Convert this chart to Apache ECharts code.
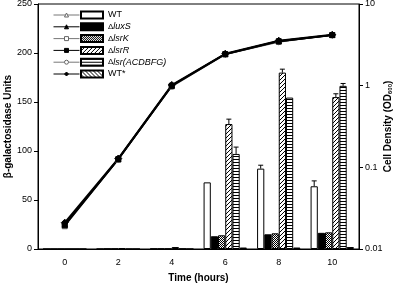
<!DOCTYPE html>
<html>
<head>
<meta charset="utf-8">
<script src="https://cdn.jsdelivr.net/npm/echarts@6/dist/echarts.min.js"></script>
<style>
  html, body { margin: 0; padding: 0; background: #fff; }
  #chart { width: 400px; height: 285px; }
</style>
</head>
<body>
<div id="chart"></div>
<script>
// time points (hours)
const hours = ['0', '2', '4', '6', '8', '10'];

// beta-galactosidase units (bars, left axis)
const wtBars      = [0, 0, 0.3, 68, 82, 64];
const luxSBars    = [0, 0.3, 0.3, 13, 15, 16.5];
const lsrKBars    = [0, 0.3, 0.3, 14, 16, 17];
const lsrRBars    = [0, 1, 2, 127.5, 180, 155];
const lsrACDBars  = [0, 0, 0.3, 97, 154.5, 166.5];
const wtStarBars  = [0, 0, 0, 1.5, 1.5, 2];

// error bars (upper), index = time point
const wtErr     = [0, 0, 0, 0, 3.5, 5.5];
const lsrRErr   = [0, 0, 0, 5, 3.5, 3.4];
const lsrACDErr = [0, 0, 0, 7, 0, 2.4];

// cell density OD600 (lines, right axis) - the strains overlap
const odWT     = [0.02, 0.126, 1.0, 2.44, 3.5, 4.17];
const odLuxS   = [0.02, 0.126, 1.0, 2.44, 3.5, 4.17];
const odLsrK   = [0.019, 0.124, 0.98, 2.4, 3.45, 4.15];
const odLsrR   = [0.0195, 0.126, 1.0, 2.44, 3.5, 4.17];
const odLsrACD = [0.02, 0.125, 0.97, 2.42, 3.4, 4.17];
const odWTStar = [0.021, 0.128, 1.02, 2.46, 3.55, 4.2];

const strains = ['WT', 'ΔluxS', 'ΔlsrK', 'ΔlsrR', 'Δlsr(ACDBFG)', 'WT*'];

function pattern(kind) {
  const c = document.createElement('canvas');
  const n = kind === 'horiz' ? 3 : (kind === 'check' ? 2 : 4);
  c.width = n; c.height = n;
  const g = c.getContext('2d');
  g.fillStyle = '#fff';
  g.fillRect(0, 0, n, n);
  g.fillStyle = '#000';
  for (let i = 0; i < n; i++) {
    if (kind === 'check') { if (i % 2 === 0) { g.fillRect(0, i, 1, 1); g.fillRect(1, i + 1, 1, 1); } }
    if (kind === 'fwd') g.fillRect(i, n - 1 - i, 1, 1);
    if (kind === 'back') g.fillRect(i, i, 1, 1);
  }
  if (kind === 'horiz') g.fillRect(0, 0, n, 1);
  return { image: c, repeat: 'repeat' };
}

const fills = ['#fff', '#000', pattern('check'), pattern('fwd'), pattern('horiz'), pattern('back')];
const barData = [wtBars, luxSBars, lsrKBars, lsrRBars, lsrACDBars, wtStarBars];
const odData = [odWT, odLuxS, odLsrK, odLsrR, odLsrACD, odWTStar];
const symbols = ['triangle', 'triangle', 'rect', 'rect', 'circle', 'diamond'];
const openSym = [true, false, true, false, true, false];

const errPoints = [];
[[0, wtErr], [3, lsrRErr], [4, lsrACDErr]].forEach(([bi, errs]) => {
  errs.forEach((e, t) => {
    if (e > 0) errPoints.push([t, barData[bi][t], e, bi]);
  });
});

const font = 'Liberation Sans, Arial, sans-serif';
const chart = echarts.init(document.getElementById('chart'), null, { renderer: 'canvas' });

const series = [];
strains.forEach((s, i) => {
  series.push({
    name: s,
    type: 'bar',
    yAxisIndex: 0,
    data: barData[i],
    barGap: '0%',
    barCategoryGap: '19%',
    itemStyle: { color: fills[i], borderColor: '#000', borderWidth: 1 },
    emphasis: { disabled: true },
    animation: false
  });
});
// gray open-marker lines first, black filled on top
[0, 2, 4, 1, 3, 5].forEach(i => {
  series.push({
    name: strains[i] + ' OD',
    type: 'line',
    yAxisIndex: 1,
    data: odData[i],
    symbol: symbols[i],
    symbolSize: symbols[i] === 'diamond' ? 7 : 5,
    showAllSymbol: true,
    lineStyle: { color: openSym[i] ? '#777' : '#000', width: openSym[i] ? 1.2 : 1.8 },
    itemStyle: {
      color: openSym[i] ? '#fff' : '#000',
      borderColor: openSym[i] ? '#666' : '#000',
      borderWidth: 1
    },
    z: 5,
    animation: false
  });
});
series.push({
  type: 'custom',
  yAxisIndex: 0,
  data: errPoints,
  z: 6,
  animation: false,
  renderItem: function (params, api) {
    const t = api.value(0), v = api.value(1), e = api.value(2), bi = api.value(3);
    const base = api.coord([t, v]);
    const top = api.coord([t, v + e]);
    const band = api.size([1, 0])[0];
    const bw = band * 0.81 / 6;
    const cx = base[0] + (bi - 2.5) * bw;
    const st = { stroke: '#000', lineWidth: 1 };
    return {
      type: 'group',
      children: [
        { type: 'line', shape: { x1: cx, y1: base[1], x2: cx, y2: top[1] }, style: st },
        { type: 'line', shape: { x1: cx - 2.5, y1: top[1], x2: cx + 2.5, y2: top[1] }, style: st }
      ]
    };
  }
});

const legendRich = {
  d: { fontSize: 8, fontFamily: font, color: '#000' },
  i: { fontSize: 9, fontStyle: 'italic', fontFamily: font, color: '#000' },
  n: { fontSize: 9, fontFamily: font, color: '#000' }
};

const option = {
  backgroundColor: '#fff',
  grid: {
    left: 38, right: 41, top: 4, bottom: 36,
    outerBoundsMode: 'none', containLabel: false,
    show: true, borderColor: '#000', borderWidth: 1
  },
  legend: [
    {
      data: [0, 1, 2, 3, 4, 5].map(i => strains[i] + ' OD'),
      orient: 'vertical',
      left: 53, top: 12.5,
      padding: 0,
      itemWidth: 26, itemHeight: 5, itemGap: 6.8,
      formatter: () => '',
      itemStyle: { borderWidth: 1 },
      lineStyle: { width: 1 },
      selectedMode: false
    },
    {
      data: strains,
      orient: 'vertical',
      left: 80, top: 10,
      padding: 0,
      icon: 'rect',
      itemWidth: 22, itemHeight: 7, itemGap: 1.8,
      textStyle: { fontSize: 9, fontFamily: font, color: '#000', lineHeight: 10, rich: legendRich },
      formatter: function (name) {
        if (name.charAt(0) === 'Δ') return '{d|Δ}{i|' + name.slice(1) + '}';
        return '{n|' + name + '}';
      },
      selectedMode: false
    }
  ],
  xAxis: {
    type: 'category',
    data: hours,
    name: 'Time (hours)',
    nameLocation: 'middle',
    nameMoveOverlap: false,
    nameGap: 24,
    nameTextStyle: { fontSize: 10, fontWeight: 'bold', fontFamily: font, color: '#000' },
    axisLine: { lineStyle: { color: '#000', width: 1 } },
    axisTick: { alignWithLabel: true, length: 4, lineStyle: { color: '#000' } },
    axisLabel: { fontSize: 9, fontFamily: font, color: '#000', margin: 9 }
  },
  yAxis: [
    {
      type: 'value',
      min: 0, max: 250, interval: 50,
      name: 'β-galactosidase Units',
      nameLocation: 'middle',
      nameMoveOverlap: false,
      nameGap: 25,
      nameRotate: 90,
      nameTextStyle: { fontSize: 10, fontWeight: 'bold', fontFamily: font, color: '#000' },
      axisLine: { show: true, lineStyle: { color: '#000', width: 1 } },
      axisTick: { show: true, length: 4, lineStyle: { color: '#000' } },
      axisLabel: { fontSize: 9, fontFamily: font, color: '#000', margin: 6 },
      splitLine: { show: false }
    },
    {
      type: 'log',
      logBase: 10,
      min: 0.01, max: 10,
      position: 'right',
      name: 'Cell Density (OD{s|600})',
      nameLocation: 'middle',
      nameMoveOverlap: false,
      nameGap: 24,
      nameRotate: 90,
      nameTextStyle: {
        fontSize: 10, fontWeight: 'bold', fontFamily: font, color: '#000',
        rich: { s: { fontSize: 6, fontWeight: 'bold', fontFamily: font, color: '#000', verticalAlign: 'bottom', padding: [4, 0, 0, 0] } }
      },
      axisLine: { show: true, lineStyle: { color: '#000', width: 1 } },
      axisTick: { show: true, length: 4, lineStyle: { color: '#000' } },
      minorTick: { show: false },
      axisLabel: { fontSize: 9, fontFamily: font, color: '#000', margin: 6 },
      splitLine: { show: false }
    }
  ],
  series: series
};

chart.setOption(option);
</script>
</body>
</html>
